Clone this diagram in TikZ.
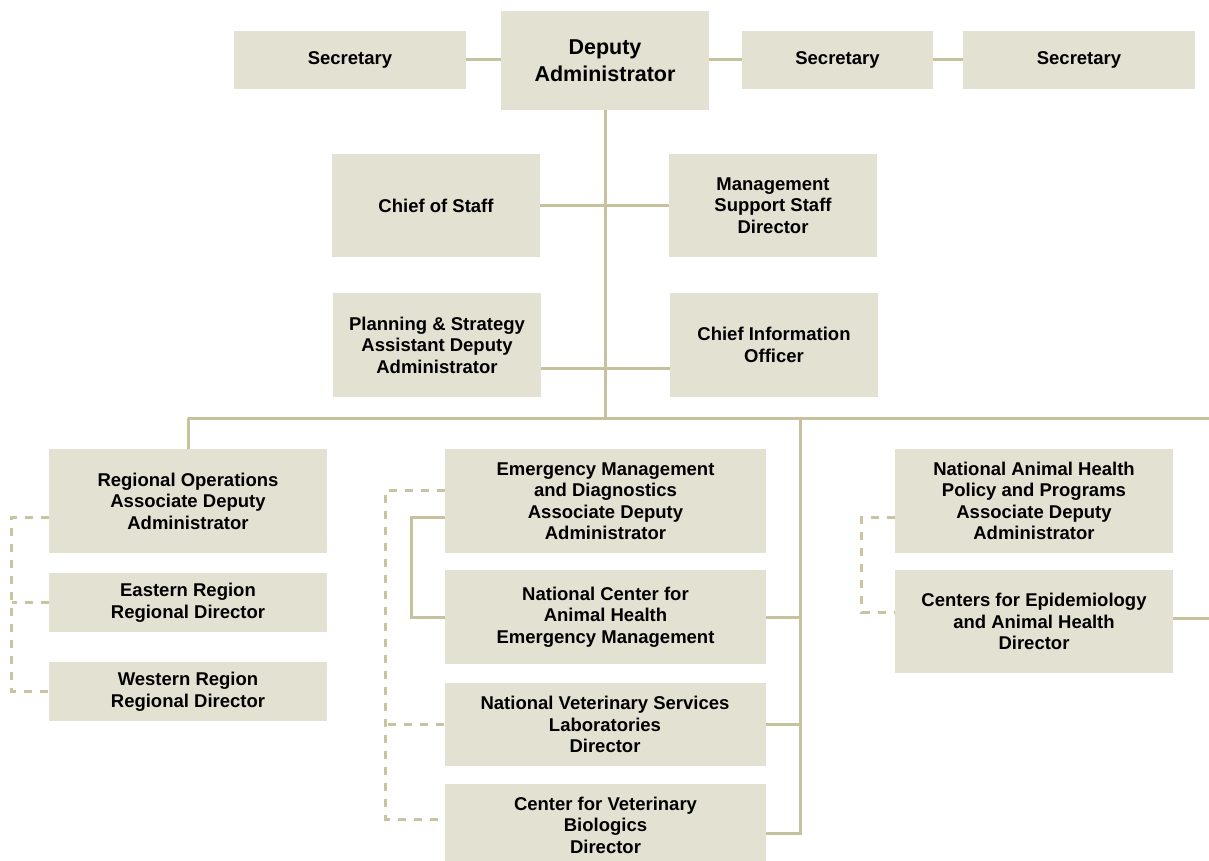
\documentclass[tikz,border=0pt]{standalone}
\usepackage{fontspec}
\setmainfont{Liberation Sans}
\usepackage{tikz}
\definecolor{boxtan}{RGB}{227,225,210}
\definecolor{linetan}{RGB}{198,194,158}
\definecolor{dashtan}{RGB}{200,196,160}
\tikzset{
  orgBox/.style={fill=boxtan, inner sep=0pt, minimum width=278pt, minimum height=104pt,
    font=\fontsize{18.5}{21.5}\selectfont\bfseries, align=center, text=black},
  orgHead/.style={orgBox, minimum width=208pt, minimum height=99pt,
    font=\fontsize{21.5}{27}\selectfont\bfseries},
  %% Reporting lines
  orglink/.style={draw=linetan, line width=3pt},
  orgdot/.style={draw=dashtan, line width=3pt, dash pattern=on 8pt off 8pt},
}
\begin{document}
\begin{tikzpicture}[x=1pt, y=-1pt]
\path[use as bounding box] (0,0) rectangle (1209,860);
\clip (0,0) rectangle (1209,860);
\fill[white] (0,0) rectangle (1209,860);

%% Front office
\node[orgHead] (pDep) at (605,60.5) {Deputy\\Administrator};
\node[orgBox, minimum width=232pt, minimum height=58pt] (pSecL) at (350,59.5) {Secretary};
\node[orgBox, minimum width=191pt, minimum height=58pt] (pSecM) at (837.5,59.5) {Secretary};
\node[orgBox, minimum width=232pt, minimum height=58pt] (pSecR) at (1079,59.5) {Secretary};

\node[orgBox, minimum width=208pt, minimum height=103pt] (pCoS) at (436,205.5) {Chief of Staff};
\node[orgBox, minimum width=208pt, minimum height=103pt] (pMSS) at (773,205.5) {Management\\Support Staff\\Director};
\node[orgBox, minimum width=208pt] (pPAS) at (437,345) {Planning \& Strategy\\Assistant Deputy\\Administrator};
\node[orgBox, minimum width=208pt] (pCIO) at (774,345) {Chief Information\\Officer};

%% Units
\node[orgBox] (pRO) at (188,501) {Regional Operations\\Associate Deputy\\Administrator};
\node[orgBox, minimum height=59pt] (pER) at (188,602.5) {Eastern Region\\Regional Director};
\node[orgBox, minimum height=59pt] (pWR) at (188,691.5) {Western Region\\Regional Director};

\node[orgBox, minimum width=321pt] (pEMD) at (605.5,501) {Emergency Management\\and Diagnostics\\Associate Deputy\\Administrator};
\node[orgBox, minimum width=321pt, minimum height=94pt] (pNCAH) at (605.5,617) {National Center for\\Animal Health\\Emergency Management};
\node[orgBox, minimum width=321pt, minimum height=83pt] (pNVSL) at (605,724.5) {National Veterinary Services\\Laboratories\\Director};
\node[orgBox, minimum width=321pt, minimum height=82pt] (pCVB) at (605.5,825) {Center for Veterinary\\Biologics\\Director};

\node[orgBox] (pNAH) at (1034,501) {National Animal Health\\Policy and Programs\\Associate Deputy\\Administrator};
\node[orgBox, minimum height=103pt] (pCEAH) at (1034,621.5) {Centers for Epidemiology\\and Animal Health\\Director};

\coordinate (busL) at (188,418);
\coordinate (busM) at (605,418);
\coordinate (busE) at (800,418);
\coordinate (busR) at (1215,418);

\draw[orglink] (pSecL.east) -- (pSecL.east -| pDep.west);
\draw[orglink] (pSecM.west -| pDep.east) -- (pSecM.west);
\draw[orglink] (pSecM.east) -- (pSecR.west);
\draw[orglink] (pDep.south) -- (busM);
\draw[orglink] (pCoS.east) -- (pMSS.west);
\draw[orglink] ([yshift=-23pt]pPAS.east) -- ([yshift=-23pt]pPAS.east -| pCIO.west);
\draw[orglink] (busL) -- (busR);
\draw[orglink] (busL) -- (pRO.north);
\draw[orglink] (busE) |- ([yshift=-8pt]pCVB.east);
\draw[orglink] (pNCAH.east) -- (pNCAH.east -| busE);
\draw[orglink] (pNVSL.east) -- (pNVSL.east -| busE);
\draw[orglink] ([yshift=-16pt]pEMD.west) -- ++(-33,0) |- (pNCAH.west);
\draw[orglink] ([yshift=3.5pt]pCEAH.east) -- ++(45,0);

%% Dotted-line reporting
\draw[orgdot] ([yshift=-16pt]pRO.west) -- ++(-37,0) |- (pWR.west);
\draw[orgdot] (pER.west) -- ++(-37,0);
\draw[orgdot] ([yshift=11pt]pEMD.west) -- ++(-59,0) |- ([yshift=6pt]pCVB.west);
\draw[orgdot] (pNVSL.west) -- ++(-58,0);
\draw[orgdot] ([yshift=-16pt]pNAH.west) -- ++(-33,0) |- ([yshift=9.5pt]pCEAH.west);
\end{tikzpicture}
\end{document}
